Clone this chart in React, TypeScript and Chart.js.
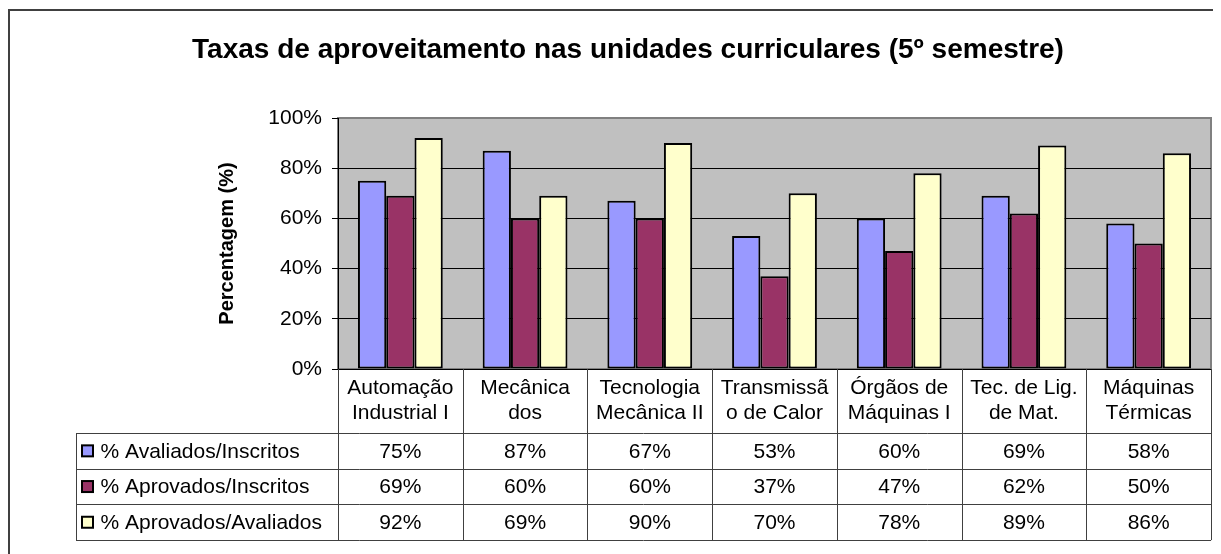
import React, { useEffect, useRef } from "react";
import { Chart, registerables } from "chart.js";

Chart.register(...registerables);

const FONT = "'Liberation Sans', Arial, sans-serif";

const titleText = "Taxas de aproveitamento nas unidades curriculares (5º semestre)";
const yAxisTitle = "Percentagem (%)";

const categories: string[][] = [
  ["Automação", "Industrial I"],
  ["Mecânica", "dos"],
  ["Tecnologia", "Mecânica II"],
  ["Transmissã", "o de Calor"],
  ["Órgãos de", "Máquinas I"],
  ["Tec. de Lig.", "de Mat."],
  ["Máquinas", "Térmicas"],
];

const seriesNames = ["% Avaliados/Inscritos", "% Aprovados/Inscritos", "% Aprovados/Avaliados"];
const avaliadosInscritos = [0.75, 0.87, 0.67, 0.53, 0.6, 0.69, 0.58];
const aprovadosInscritos = [0.69, 0.6, 0.6, 0.37, 0.47, 0.62, 0.5];
const aprovadosAvaliados = [0.92, 0.69, 0.9, 0.7, 0.78, 0.89, 0.86];
const seriesColors = ["#9999FF", "#993366", "#FFFFCC"];

const yMin = 0;
const yMax = 1;
const yStep = 0.2;

const pct = (v: number) => `${Math.round(v * 100)}%`;

const TEXT_SIZE = 21;

const plotBackground = {
  id: "plotBackground",
  beforeDraw(chart: any) {
    const { ctx, chartArea } = chart;
    const { left, top, right, bottom } = chartArea;
    ctx.save();
    ctx.fillStyle = "#C0C0C0";
    ctx.fillRect(left, top, right - left, bottom - top);
    ctx.strokeStyle = "#808080";
    ctx.lineWidth = 2;
    ctx.strokeRect(left, top, right - left, bottom - top);
    // outer chart border (left and top visible)
    ctx.strokeStyle = "#404040";
    ctx.lineWidth = 2;
    ctx.beginPath();
    ctx.moveTo(1, chart.height + 10);
    ctx.lineTo(1, 2);
    ctx.lineTo(chart.width + 10, 2);
    ctx.stroke();
    ctx.restore();
  },
};

const dataTable = {
  id: "dataTable",
  afterDraw(chart: any) {
    const { ctx, chartArea } = chart;
    const xScale = chart.scales.x;
    const labels: string[][] = chart.data.labels;
    const n = labels.length;
    const colW = (chartArea.right - chartArea.left) / n;
    const headerTop = chartArea.bottom;
    const headerH = 64;
    const rowH = 35.7;
    const tableLeft = 68;
    const right = chartArea.right;
    const rowsTop = headerTop + headerH;
    const nRows = chart.data.datasets.length;
    const tableBottom = rowsTop + rowH * nRows;

    ctx.save();
    ctx.strokeStyle = "#404040";
    ctx.lineWidth = 1;
    for (let i = 0; i <= n; i++) {
      const x = Math.round(chartArea.left + i * colW) + 0.5;
      ctx.beginPath();
      ctx.moveTo(x, headerTop);
      ctx.lineTo(x, tableBottom);
      ctx.stroke();
    }
    ctx.beginPath();
    ctx.moveTo(tableLeft + 0.5, rowsTop);
    ctx.lineTo(tableLeft + 0.5, tableBottom);
    ctx.stroke();
    for (let r = 0; r <= nRows; r++) {
      const y = Math.round(rowsTop + r * rowH) + 0.5;
      ctx.beginPath();
      ctx.moveTo(tableLeft, y);
      ctx.lineTo(right, y);
      ctx.stroke();
    }

    ctx.fillStyle = "#000";
    ctx.font = `${TEXT_SIZE}px ${FONT}`;
    ctx.textBaseline = "middle";
    ctx.textAlign = "center";
    labels.forEach((lines, i) => {
      const cx = xScale.getPixelForValue(i);
      const lh = 25;
      const startY = headerTop + headerH / 2 - ((lines.length - 1) * lh) / 2;
      lines.forEach((line, k) => ctx.fillText(line, cx, startY + k * lh));
    });

    chart.data.datasets.forEach((ds: any, r: number) => {
      const cy = rowsTop + r * rowH + rowH / 2;
      ctx.fillStyle = ds.backgroundColor;
      ctx.fillRect(tableLeft + 6, cy - 5.5, 11, 11);
      ctx.strokeStyle = "#000";
      ctx.lineWidth = 2;
      ctx.strokeRect(tableLeft + 6, cy - 5.5, 11, 11);
      ctx.fillStyle = "#000";
      ctx.textAlign = "left";
      ctx.fillText(ds.label, tableLeft + 24.5, cy + 1);
      ctx.textAlign = "center";
      ds.data.forEach((v: number, i: number) => {
        ctx.fillText(pct(v), xScale.getPixelForValue(i), cy + 1);
      });
    });
    ctx.restore();
  },
};

export default function App() {
  const canvasRef = useRef<HTMLCanvasElement | null>(null);

  useEffect(() => {
    if (!canvasRef.current) return;
    const chart = new Chart(canvasRef.current, {
      type: "bar",
      data: {
        labels: categories,
        datasets: [
          { label: seriesNames[0], data: avaliadosInscritos, backgroundColor: seriesColors[0] },
          { label: seriesNames[1], data: aprovadosInscritos, backgroundColor: seriesColors[1] },
          { label: seriesNames[2], data: aprovadosAvaliados, backgroundColor: seriesColors[2] },
        ],
      },
      options: {
        animation: false,
        responsive: true,
        maintainAspectRatio: false,
        color: "#000",
        font: { family: FONT },
        layout: { padding: { left: 37, right: 10, top: 0, bottom: 185 } },
        datasets: {
          bar: {
            categoryPercentage: 0.68,
            barPercentage: 1,
            borderColor: "#000",
            borderWidth: 2,
            borderSkipped: false,
          },
        },
        plugins: {
          legend: { display: false },
          tooltip: { enabled: false },
          title: {
            display: true,
            text: titleText,
            color: "#000",
            font: { family: FONT, size: 28, weight: "bold" },
            padding: { top: 25, bottom: 51.4 },
          },
        },
        scales: {
          x: {
            display: false,
          },
          y: {
            min: yMin,
            max: yMax,
            afterFit: (scale: any) => {
              scale.width = 293;
            },
            ticks: {
              stepSize: yStep,
              color: "#000",
              padding: 10,
              font: { family: FONT, size: TEXT_SIZE },
              callback: (v: any) => pct(Number(v)),
            },
            border: { display: true, color: "#000", width: 1 },
            grid: {
              color: (ctx: any) => (ctx.tick && Math.abs(ctx.tick.value - yMax) < 1e-9 ? "#808080" : "#000"),
              tickColor: "#000",
              tickLength: 6,
              lineWidth: 1,
            },
            title: {
              display: true,
              text: yAxisTitle,
              color: "#000",
              font: { family: FONT, size: 20, weight: "bold" },
              padding: { top: 170, bottom: 0 },
            },
          },
        },
      },
      plugins: [plotBackground, dataTable],
    });
    return () => chart.destroy();
  }, []);

  return (
    <div style={{ position: "relative", width: 1213, height: 546 }}>
      <canvas ref={canvasRef} />
    </div>
  );
}
